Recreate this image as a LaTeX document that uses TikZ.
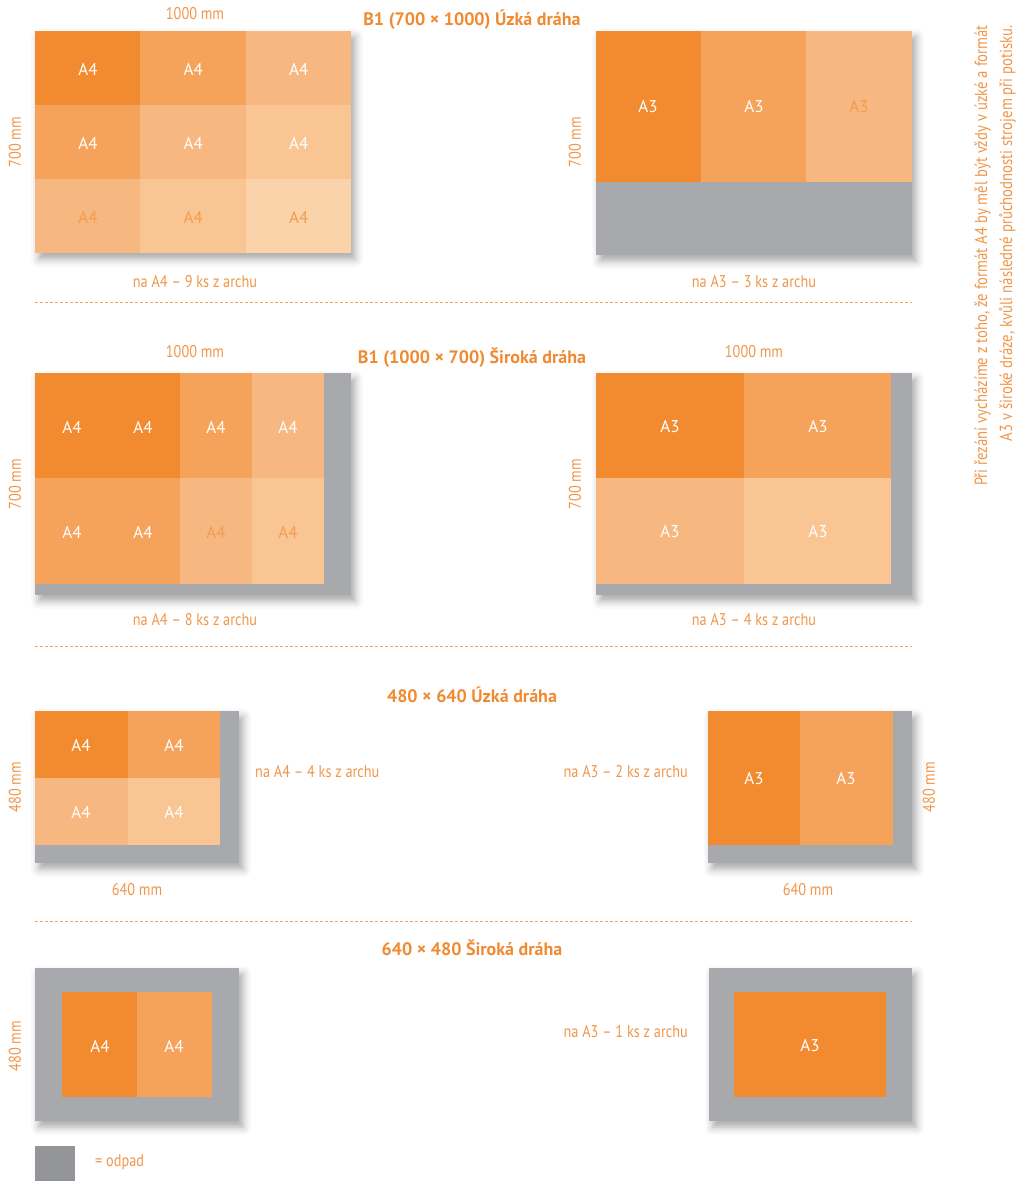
\documentclass[tikz,border=0pt]{standalone}
\usepackage{fontspec}
\setmainfont{PT Sans}
\newfontfamily\narrowfont{PT Sans}[FakeStretch=0.84]
\usetikzlibrary{shadows.blur}
\definecolor{or1}{HTML}{F28B30}
\definecolor{or2}{HTML}{F5A35B}
\definecolor{or3}{HTML}{F7B780}
\definecolor{or4}{HTML}{F9C592}
\definecolor{or5}{HTML}{FBD3AA}
\definecolor{waste}{HTML}{A7A9AC}
\definecolor{wastekey}{HTML}{939598}
\definecolor{ink}{HTML}{F08A30}
\definecolor{capt}{HTML}{F0964A}

\begin{document}
\begin{tikzpicture}[x=1pt,y=-1pt,
  sheet/.style={fill=waste,blur shadow={shadow xshift=4pt,shadow yshift=-6pt,shadow blur radius=8pt,shadow opacity=35}},
  lbl/.style={text=white,inner sep=0pt,font=\fontsize{17}{17}\selectfont},
  lbldark/.style={lbl,text=or1!85!white},
  dimtext/.style={text=capt,inner sep=0pt,font=\narrowfont\fontsize{17}{17}\selectfont},
  vdim/.style={dimtext,rotate=90},
  head/.style={text=ink,inner sep=0pt,font=\bfseries\fontsize{18}{18}\selectfont},
  sep/.style={draw=or2,line width=0.8pt,dash pattern=on 3pt off 2pt}]
  \useasboundingbox (0,0) rectangle (1024,1188);

  % B1 uzka draha
  \node[head] (t1) at (472,20) {B1 (700 × 1000) Úzká dráha};
  \fill[sheet] (35,31) rectangle (351,253);
  \foreach \i/\j/\c in {0/0/or1,1/0/or2,2/0/or3,0/1/or2,1/1/or3,2/1/or4,0/2/or3,1/2/or4,2/2/or5}
    \fill[\c] ({35+105.33*\i},{31+74*\j}) rectangle ++(105.33,74);
  \foreach \i in {0,1,2} {
    \node[lbl] (a\i r1) at ({88+105.33*\i},69) {A4};
    \node[lbl] (a\i r2) at ({88+105.33*\i},143) {A4};
    \node[lbldark] (a\i r3) at ({88+105.33*\i},217) {A4};
  }
  \node[dimtext] (w1) at (195,14) {1000 mm};
  \node[vdim] (h1) at (15,142) {700 mm};
  \node[dimtext] (c1) at (195,282) {na A4 – 9 ks z archu};

  \fill[sheet] (596,31) rectangle (912,255);
  \fill[or1] (596,31) rectangle (701,182);
  \fill[or2] (701,31) rectangle (806,182);
  \fill[or3] (806,31) rectangle (912,182);
  \node[lbl] (b1) at (648,107) {A3};
  \node[lbl] (b2) at (754,107) {A3};
  \node[lbldark] (b3) at (859,107) {A3};
  \node[vdim] (h2) at (575,142) {700 mm};
  \node[dimtext] (c2) at (754,282) {na A3 – 3 ks z archu};

  \draw[sep] (35,302) -- (912,302);

  % B1 siroka draha
  \node[head] (t2) at (472,358) {B1 (1000 × 700) Široká dráha};
  \fill[sheet] (35,373) rectangle (351,595);
  \fill[or1] (35,373) rectangle (180,478);
  \fill[or2] (180,373) rectangle (252,478);
  \fill[or3] (252,373) rectangle (324,478);
  \fill[or2] (35,478) rectangle (180,584);
  \fill[or3] (180,478) rectangle (252,584);
  \fill[or4] (252,478) rectangle (324,584);
  \node[lbl] (d1) at (72,427) {A4};
  \node[lbl] (d2) at (143,427) {A4};
  \node[lbl] (d3) at (216,427) {A4};
  \node[lbl] (d4) at (288,427) {A4};
  \node[lbl] (d5) at (72,532) {A4};
  \node[lbl] (d6) at (143,532) {A4};
  \node[lbldark] (d7) at (216,532) {A4};
  \node[lbldark] (d8) at (288,532) {A4};
  \node[dimtext] (w3) at (195,352) {1000 mm};
  \node[vdim] (h3) at (15,484) {700 mm};
  \node[dimtext] (c3) at (195,620) {na A4 – 8 ks z archu};

  \fill[sheet] (596,373) rectangle (912,595);
  \fill[or1] (596,373) rectangle (744,478);
  \fill[or2] (744,373) rectangle (891,478);
  \fill[or3] (596,478) rectangle (744,584);
  \fill[or4] (744,478) rectangle (891,584);
  \node[lbl] (e1) at (670,427) {A3};
  \node[lbl] (e2) at (818,427) {A3};
  \node[lbl] (e3) at (670,532) {A3};
  \node[lbl] (e4) at (818,532) {A3};
  \node[dimtext] (w4) at (754,352) {1000 mm};
  \node[vdim] (h4) at (575,484) {700 mm};
  \node[dimtext] (c4) at (754,620) {na A3 – 4 ks z archu};

  \draw[sep] (35,646) -- (912,646);

  % 480 x 640
  \node[head] (t3) at (472,695) {480 × 640 Úzká dráha};
  \fill[sheet] (35,711) rectangle (239,863);
  \fill[or1] (35,711) rectangle (128,778);
  \fill[or2] (128,711) rectangle (220,778);
  \fill[or3] (35,778) rectangle (128,845);
  \fill[or4] (128,778) rectangle (220,845);
  \node[lbl] (f1) at (81,745) {A4};
  \node[lbl] (f2) at (174,745) {A4};
  \node[lbl] (f3) at (81,812) {A4};
  \node[lbl] (f4) at (174,812) {A4};
  \node[vdim] (h5) at (15,787) {480 mm};
  \node[dimtext] (w5) at (137,890) {640 mm};
  \node[dimtext,anchor=west] (c5) at (255,772) {na A4 – 4 ks z archu};

  \fill[sheet] (708,711) rectangle (912,863);
  \fill[or1] (708,711) rectangle (800,845);
  \fill[or2] (800,711) rectangle (893,845);
  \node[lbl] (g1) at (754,779) {A3};
  \node[lbl] (g2) at (846,779) {A3};
  \node[vdim] (h6) at (929,787) {480 mm};
  \node[dimtext] (w6) at (808,890) {640 mm};
  \node[dimtext,anchor=east] (c6) at (688,772) {na A3 – 2 ks z archu};

  \draw[sep] (35,921) -- (912,921);

  % 640 x 480
  \node[head] (t4) at (472,948) {640 × 480 Široká dráha};
  \fill[sheet] (35,968) rectangle (239,1121);
  \fill[or1] (62,992) rectangle (137,1097);
  \fill[or2] (137,992) rectangle (212,1097);
  \node[lbl] (k1) at (100,1046) {A4};
  \node[lbl] (k2) at (174,1046) {A4};
  \node[vdim] (h7) at (15,1046) {480 mm};

  \fill[sheet] (709,968) rectangle (912,1121);
  \fill[or1] (734,992) rectangle (886,1097);
  \node[lbl] (m1) at (810,1046) {A3};
  \node[dimtext,anchor=east] (c8) at (688,1032) {na A3 – 1 ks z archu};

  % legenda
  \fill[wastekey] (35,1146) rectangle (75,1181);
  \node[dimtext,anchor=west] (key) at (95,1162) {= odpad};

  \node[dimtext,rotate=90,align=right,anchor=north east,font=\narrowfont\fontsize{17.5}{25}\selectfont] (note) at (974,25)
    {Při řezání vycházíme z toho, že formát A4 by měl být vždy v úzké a formát\\A3 v široké dráze, kvůli následné průchodnosti strojem při potisku.};
\end{tikzpicture}
\end{document}
